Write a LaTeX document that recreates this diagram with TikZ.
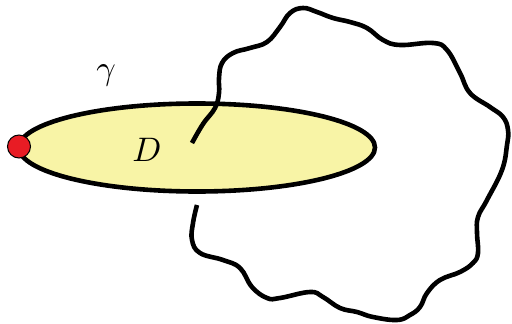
\documentclass[tikz,border=0pt]{standalone}
\begin{document}
\begin{tikzpicture}[x=1pt,y=-1pt,
  outline/.style={line width=4.6pt},
  wavy/.style={line width=4.6pt, smooth, tension=0.7},
  lbl/.style={scale=3.4}]
\definecolor{diskfill}{RGB}{248,244,166}
\definecolor{dotred}{RGB}{232,28,36}
\useasboundingbox (0,0) rectangle (512,324);
\draw[outline, fill=diskfill] (197,147.5) ellipse [x radius=178, y radius=44];
\node[lbl] (g) at (106,75) {$\gamma$};
\node[lbl] (d) at (147,150) {$D$};
\draw[wavy] plot coordinates {(192,143) (203,124) (215,108) (219,93) (219,78) (222,63) (233,53) (250,48) (267,42) (280,27) (290,13) (303,8) (317,12) (333,18) (350,22) (367,28) (383,40) (400,45) (433,43) (447,50) (460,73) (470,93) (490,107) (503,117) (508,130) (507,145) (502,170) (487,200) (478,217) (477,233) (478,253) (473,263) (460,272) (440,280) (427,293) (420,307) (410,315) (397,320) (373,317) (357,312) (340,308) (323,297) (310,292) (280,298) (267,298) (252,287) (240,268) (223,260) (200,253) (192,240) (193,223) (197,205)};
\fill[dotred, draw=black, line width=1pt] (19,146.5) circle (11.5);
\end{tikzpicture}
\end{document}
